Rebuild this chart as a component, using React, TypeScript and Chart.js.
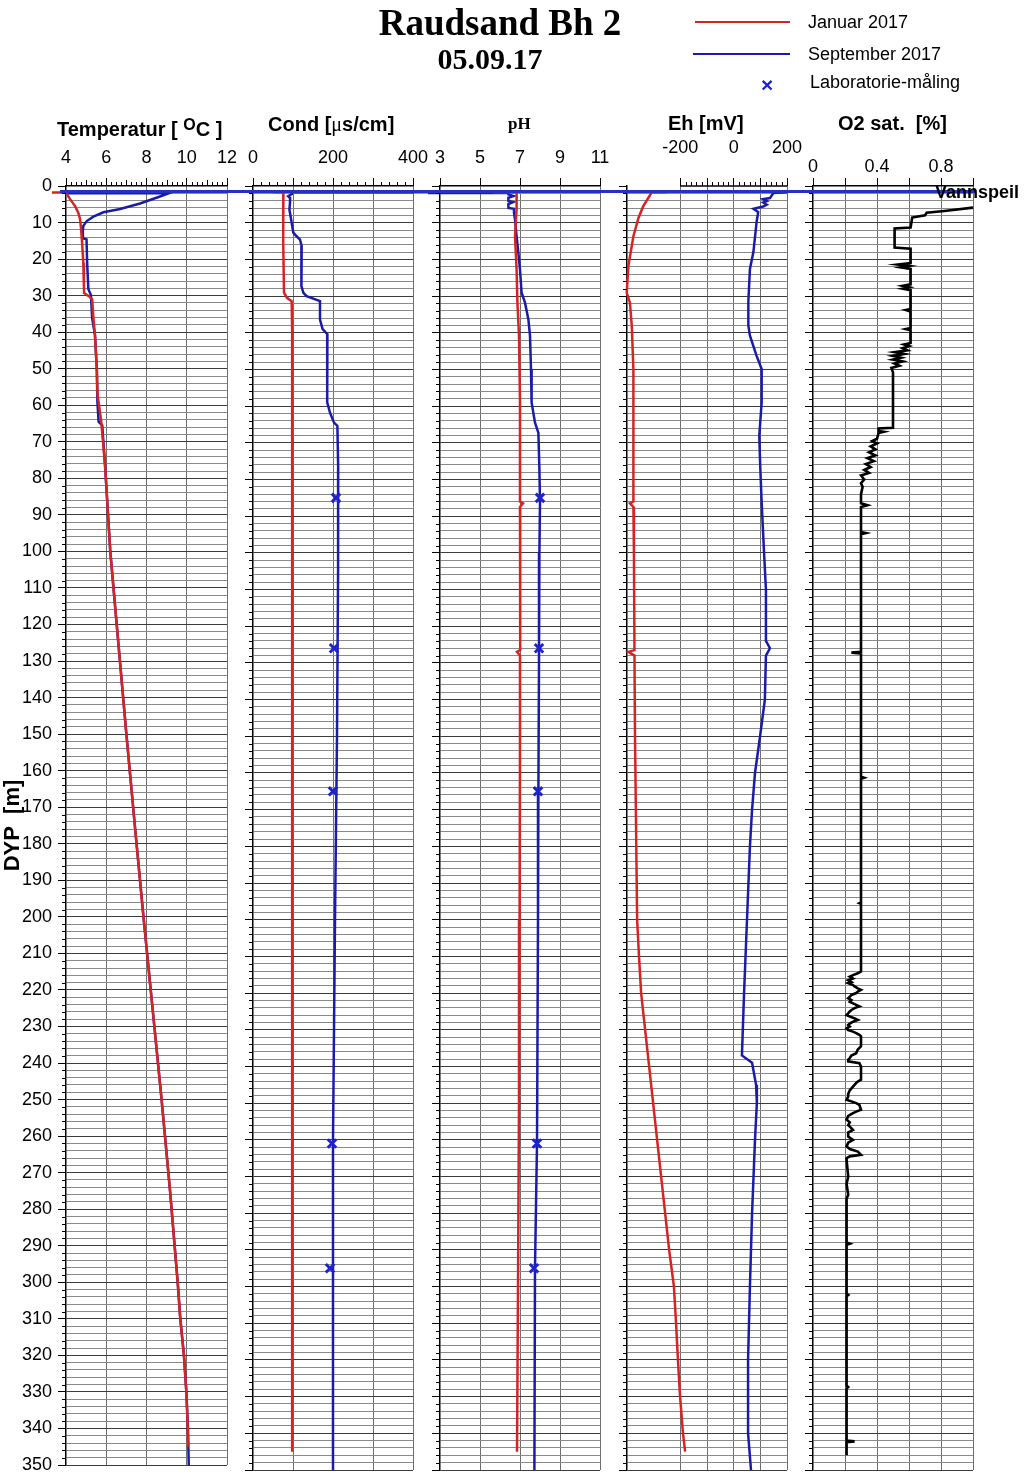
import React, { useEffect, useRef } from "react";
import { Chart, registerables } from "chart.js";

Chart.register(...registerables);

// ---------------- DATA ----------------
const DEPTH_MIN = 0;
const DEPTH_MAX = 350;
const VANNSPEIL_DEPTH = 1.5;

// Temperature (°C)
const TEMP_JAN_DEPTH = [1.8, 1.8, 3.6, 5.5, 7.3, 9.1, 11.8, 16.4, 21.0, 27.4, 29.3, 30.2, 31.0, 36, 40.8, 49.9, 57.2, 64.5, 70, 76.4, 100, 125, 150, 175, 200, 225, 250, 275, 300, 310, 320, 330, 340, 345];
const TEMP_JAN = [3.3, 4.0, 4.2, 4.45, 4.61, 4.7, 4.75, 4.81, 4.86, 4.89, 4.9, 5.15, 5.3, 5.36, 5.44, 5.53, 5.57, 5.75, 5.84, 5.94, 6.2, 6.6, 7.0, 7.42, 7.85, 8.3, 8.75, 9.17, 9.55, 9.68, 9.86, 9.98, 10.05, 10.07];
const TEMP_SEP_DEPTH = [2.0, 2.0, 3.0, 4.8, 6.3, 7.2, 8.4, 9.6, 10.9, 12.7, 14.3, 14.6, 20.9, 28.2, 29.9, 36.2, 40.8, 49.9, 59, 64.5, 65.5, 76.4, 100, 125, 150, 175, 200, 225, 250, 275, 300, 310, 320, 330, 340, 350];
const TEMP_SEP = [4.0, 9.1, 8.6, 7.68, 6.69, 5.86, 5.36, 5.03, 4.86, 4.83, 4.84, 5.02, 5.05, 5.11, 5.24, 5.3, 5.44, 5.53, 5.56, 5.62, 5.8, 5.94, 6.2, 6.6, 7.0, 7.42, 7.85, 8.3, 8.75, 9.17, 9.55, 9.68, 9.86, 9.98, 10.06, 10.1];

// Conductivity (µS/cm)
const COND_JAN_DEPTH = [1.7, 1.7, 4.6, 15, 29.1, 30.5, 31.4, 40.8, 100, 200, 300, 345];
const COND_JAN = [51, 76, 75, 76, 77.5, 85, 96.7, 98, 98, 98, 98, 97.5];
const COND_SEP_DEPTH = [1.7, 1.7, 2.2, 2.8, 3.3, 4.6, 6.4, 10, 12.7, 13.7, 14.6, 16.4, 27.3, 29.1, 30, 31.4, 36.4, 39, 40.4, 50, 59, 61.8, 64.5, 65.4, 77.2, 86.3, 104.5, 150, 200, 260, 300, 350];
const COND_SEP = [440, 97, 97, 88, 93, 92.5, 91, 96.7, 100.8, 109, 117.5, 121.7, 121, 126, 134, 167.5, 167.5, 174, 186, 185, 186, 192.5, 202.5, 211, 213, 213, 212.5, 210, 205, 200, 200, 200];

// pH
const PH_JAN_DEPTH = [1.7, 1.7, 6.2, 13.7, 22.8, 31.6, 40.8, 59, 86, 86.5, 87.5, 100, 126.5, 127, 128, 150, 200, 250, 300, 345];
const PH_JAN = [5.67, 6.83, 6.83, 6.75, 6.83, 6.87, 6.95, 7.0, 7.0, 7.15, 7.0, 7.02, 7.0, 6.85, 7.0, 7.0, 6.98, 6.95, 6.9, 6.85];
const PH_SEP_DEPTH = [1.9, 1.9, 2.3, 2.75, 3.2, 4.1, 4.4, 4.9, 6.0, 6.2, 7.3, 9.1, 13.7, 18.3, 22.8, 29.1, 31.8, 36.4, 40.8, 50, 59, 64.5, 67.3, 77.2, 86.3, 100, 130, 165, 200, 261, 295, 350];
const PH_SEP = [2.4, 6.42, 6.42, 6.67, 6.42, 6.42, 6.65, 6.42, 6.42, 6.7, 6.7, 6.75, 6.83, 6.92, 7.0, 7.08, 7.25, 7.42, 7.5, 7.55, 7.58, 7.75, 7.92, 7.97, 8.0, 7.97, 7.95, 7.92, 7.9, 7.85, 7.75, 7.72];

// Eh (mV)
const EH_JAN_DEPTH = [1.7, 1.7, 5.5, 8.7, 13.7, 21.9, 29.1, 31.8, 38.2, 50, 86, 86.5, 87.5, 100, 126.5, 127, 128, 150, 200, 210, 220, 230, 240, 250, 260, 270, 280, 290, 300, 310, 320, 330, 340, 345];
const EH_JAN = [-251, -307, -339, -357, -376, -395, -401, -389, -382, -376, -376, -389, -376, -374, -372, -395, -372, -370, -362, -355, -347, -332, -317, -302, -287, -272, -257, -242, -224, -216, -209, -201, -190, -182];
const EH_SEP_DEPTH = [1.7, 1.9, 3.3, 3.6, 4.1, 4.5, 5.1, 5.6, 6.2, 7.1, 9.8, 18, 22.6, 31.6, 38, 40.8, 46.3, 49.9, 59, 68.1, 77.2, 86.3, 100, 110, 124, 126, 128, 140, 150, 160, 170, 180, 200, 220, 237, 239, 245, 250, 260, 280, 300, 320, 340, 350];
const EH_SEP = [199, 149, 136, 111, 124, 111, 124, 111, 74, 92, 86, 74, 61, 55, 55, 61, 86, 105, 105, 96, 100, 105, 114, 121, 121, 136, 121, 117, 99, 80, 69, 61, 50, 39, 31, 69, 84, 87, 80, 69, 61, 54, 54, 65];

// O2 saturation (fraction): [depth, value]
const O2_PROFILE: [number, number][] = [
  [5.9, 1.0], [6.8, 0.82], [7.3, 0.71], [8.0, 0.70], [8.6, 0.62], [11.3, 0.61], [11.6, 0.51], [16.8, 0.51], [17.1, 0.61],
  [21.0, 0.61], [21.4, 0.53], [21.8, 0.60], [22.2, 0.55], [22.6, 0.61], [26.8, 0.61], [27.2, 0.56], [27.6, 0.60], [28.0, 0.56],
  [28.4, 0.61], [33.5, 0.61], [33.8, 0.58], [34.2, 0.61], [38.7, 0.61], [39.0, 0.58], [39.3, 0.61], [42.8, 0.61], [43.2, 0.57],
  [43.6, 0.60], [44.2, 0.56], [44.8, 0.59], [45.3, 0.51], [45.8, 0.57], [46.3, 0.50], [46.8, 0.55], [47.3, 0.50], [47.8, 0.56],
  [48.4, 0.51], [49.0, 0.54], [49.6, 0.49], [50.8, 0.50], [65.9, 0.50], [66.1, 0.41], [66.8, 0.41], [67.0, 0.44], [67.3, 0.41],
  [68.9, 0.40], [69.5, 0.37], [70.2, 0.40], [71.0, 0.36], [71.8, 0.39], [72.6, 0.35], [73.4, 0.39], [74.2, 0.34], [75.0, 0.38],
  [75.8, 0.33], [76.6, 0.36], [77.4, 0.32], [78.2, 0.35], [78.9, 0.30], [80, 0.32], [81, 0.30], [82, 0.31], [84, 0.30],
  [86.5, 0.30], [87, 0.34], [87.5, 0.30], [94.3, 0.30], [94.6, 0.33], [94.9, 0.30], [127, 0.30], [127.2, 0.24], [127.4, 0.30],
  [161, 0.30], [161.3, 0.32], [161.6, 0.30], [195.3, 0.30], [195.5, 0.29], [195.7, 0.30],
  [214.1, 0.30], [214.6, 0.28], [215.1, 0.25], [215.5, 0.23], [216.0, 0.25], [216.5, 0.22], [217.0, 0.24], [217.3, 0.22],
  [217.8, 0.25], [218.2, 0.26], [218.7, 0.28], [219.1, 0.30], [219.6, 0.28], [220.0, 0.27], [220.5, 0.24], [221.0, 0.23],
  [221.4, 0.22], [221.9, 0.24], [222.4, 0.23], [222.8, 0.25], [223.2, 0.27], [223.6, 0.29], [224.1, 0.26], [224.6, 0.24],
  [225.0, 0.23], [225.5, 0.22], [226.0, 0.21], [226.4, 0.23], [226.9, 0.26], [227.3, 0.28], [227.8, 0.25], [228.3, 0.23],
  [228.7, 0.22], [229.1, 0.23], [229.6, 0.21], [230.1, 0.22], [230.5, 0.25], [230.9, 0.27], [231.4, 0.29], [231.8, 0.30],
  [233.2, 0.30], [234.5, 0.30], [235.4, 0.28], [236.4, 0.27], [237.0, 0.24], [237.7, 0.23], [238.2, 0.22], [238.6, 0.22],
  [239.1, 0.29], [240, 0.30], [243.6, 0.30], [244.1, 0.28], [244.5, 0.27], [245.5, 0.25], [246.5, 0.23], [247.5, 0.22],
  [248.2, 0.22], [249.1, 0.21], [250, 0.27], [250.5, 0.29], [251.8, 0.30], [252.3, 0.27], [252.7, 0.25], [253.5, 0.22],
  [254.5, 0.21], [255.2, 0.23], [256.0, 0.22], [256.4, 0.23], [257.3, 0.25], [258.0, 0.22], [259.1, 0.22], [260, 0.25],
  [260.8, 0.22], [261.8, 0.21], [262.5, 0.23], [263.2, 0.28], [264.1, 0.30], [264.5, 0.23], [265.0, 0.21], [265.5, 0.21],
  [270, 0.22], [272, 0.21], [275, 0.22], [276, 0.21], [288, 0.21], [288.3, 0.23], [288.6, 0.21], [302, 0.21], [302.3, 0.22],
  [302.6, 0.21], [327, 0.21], [327.4, 0.22], [327.8, 0.21], [342, 0.21], [342.2, 0.26], [342.4, 0.21], [346, 0.21],
];

// Laboratory measurements
const LAB_DEPTH = [85, 126, 165, 261, 295];
const LAB_COND = [207.5, 202.5, 200, 197.5, 192.5];
const LAB_PH = [8.0, 7.95, 7.9, 7.85, 7.7];

// Axis ticks
const DEPTH_TICKS = Array.from({ length: 176 }, (_, i) => i * 2);
const TEMP_TICKS = [4, 6, 8, 10, 12];
const COND_TICKS = [0, 100, 200, 300, 400];
const COND_LABELS = [0, 200, 400];
const PH_TICKS = [3, 5, 7, 9, 11];
const EH_TICKS = [-200, -100, 0, 100, 200];
const EH_LABELS = [-200, 0, 200];
const O2_TICKS = [0, 0.2, 0.4, 0.6, 0.8, 1.0];
const O2_LABELS = [0, 0.4, 0.8];

// ---------------- STYLE ----------------
const RED = "#d42424";
const BLUE = "#1a1ca8";
const MARK_BLUE = "#1f22d0";
const VS_BLUE = "#2331c4";
const SANS = "'Liberation Sans', Arial, Helvetica, sans-serif";
const SERIF = "'Liberation Serif', 'Times New Roman', serif";
const CANVAS_W = 1024;
const CANVAS_H = 1480;
const AREA_TOP = 186;
const AREA_BOTTOM = 1470;
const X_AXIS_H = 60;

function range(a: number, b: number, step: number): number[] {
  const out: number[] = [];
  for (let v = a; v <= b + 1e-9; v += step) out.push(Math.round(v * 1000) / 1000);
  return out;
}

type Series = { depth: number[]; values: number[]; color: string; width?: number };
type Panel = {
  key: string;
  left: number;
  right: number;
  min: number;
  max: number;
  ticks: number[];
  labels: number[];
  minor: number[];
  labelPad: number;
  series: Series[];
  lab?: number[];
  topLine?: [number, number];
  vsLeft: number;
  vsRight: number;
};

const PANELS: Panel[] = [
  {
    key: "temp", left: 66, right: 227, min: 4, max: 12,
    ticks: TEMP_TICKS, labels: TEMP_TICKS, minor: range(4, 12, 0.25).filter((v) => v % 2 !== 0),
    labelPad: 9,
    series: [
      { depth: TEMP_JAN_DEPTH, values: TEMP_JAN, color: RED },
      { depth: TEMP_SEP_DEPTH, values: TEMP_SEP, color: BLUE },
    ],
    vsLeft: 6, vsRight: 13,
  },
  {
    key: "cond", left: 253, right: 413, min: 0, max: 400,
    ticks: COND_TICKS, labels: COND_LABELS, minor: range(0, 400, 20).filter((v) => v % 100 !== 0),
    labelPad: 9,
    series: [
      { depth: COND_JAN_DEPTH, values: COND_JAN, color: RED },
      { depth: COND_SEP_DEPTH, values: COND_SEP, color: BLUE },
    ],
    lab: LAB_COND,
    vsLeft: 13, vsRight: 14,
  },
  {
    key: "ph", left: 440, right: 600, min: 3, max: 11,
    ticks: PH_TICKS, labels: PH_TICKS, minor: [],
    labelPad: 9,
    series: [
      { depth: PH_JAN_DEPTH, values: PH_JAN, color: RED },
      { depth: PH_SEP_DEPTH, values: PH_SEP, color: BLUE },
    ],
    lab: LAB_PH,
    vsLeft: 13, vsRight: 14,
  },
  {
    key: "eh", left: 627, right: 787, min: -400, max: 200,
    ticks: EH_TICKS, labels: EH_LABELS, minor: range(-200, 200, 20).filter((v) => v % 100 !== 0),
    labelPad: 19,
    series: [
      { depth: EH_JAN_DEPTH, values: EH_JAN, color: RED },
      { depth: EH_SEP_DEPTH, values: EH_SEP, color: BLUE },
    ],
    topLine: [-200, 200],
    vsLeft: 13, vsRight: 13,
  },
  {
    key: "o2", left: 813, right: 973, min: 0, max: 1,
    ticks: O2_TICKS, labels: O2_LABELS, minor: [],
    labelPad: 0,
    series: [{ depth: O2_PROFILE.map((r) => r[0]), values: O2_PROFILE.map((r) => r[1]), color: "#000000", width: 2.6 }],
    vsLeft: 13, vsRight: 2,
  },
];

const decorPlugin = {
  id: "decor",
  afterDraw(chart: any, _args: any, opts: any) {
    const ctx = chart.ctx as CanvasRenderingContext2D;
    const xs = chart.scales.x;
    const ys = chart.scales.y;
    const { top, left, right } = chart.chartArea;
    ctx.save();
    ctx.strokeStyle = "#000";
    ctx.lineWidth = 1;
    ctx.beginPath();
    for (const v of opts.xMinor as number[]) {
      const px = Math.round(xs.getPixelForValue(v)) + 0.5;
      const len = Math.abs(v - Math.round(v)) < 1e-9 && opts.midInt ? 6 : 4;
      ctx.moveTo(px, top);
      ctx.lineTo(px, top - len);
    }
    for (const v of DEPTH_TICKS) {
      if (v % 10 === 0) continue;
      const py = Math.round(ys.getPixelForValue(v)) + 0.5;
      ctx.moveTo(left, py);
      ctx.lineTo(left - 4, py);
    }
    ctx.stroke();
    if (opts.topLine) {
      ctx.lineWidth = 1.5;
      ctx.beginPath();
      ctx.moveTo(xs.getPixelForValue(opts.topLine[0]), top);
      ctx.lineTo(xs.getPixelForValue(opts.topLine[1]), top);
      ctx.stroke();
    }
    // water level line
    const vy = ys.getPixelForValue(VANNSPEIL_DEPTH);
    ctx.strokeStyle = VS_BLUE;
    ctx.lineWidth = 3;
    ctx.beginPath();
    ctx.moveTo(left - opts.vsLeft, vy);
    ctx.lineTo(right + opts.vsRight, vy);
    ctx.stroke();
    ctx.restore();
  },
};

function buildChart(canvas: HTMLCanvasElement, p: Panel, first: boolean) {
  const yWidth = first ? 66 : 8;
  const datasets: any[] = [];
  if (p.lab) {
    datasets.push({
      type: "line",
      data: LAB_DEPTH.map((d, k) => ({ x: p.lab![k], y: d })),
      showLine: false,
      pointStyle: "crossRot",
      pointRadius: 6,
      pointBorderWidth: 3,
      pointBorderColor: MARK_BLUE,
      pointBackgroundColor: MARK_BLUE,
      borderColor: MARK_BLUE,
      clip: false,
    });
  }
  for (const s of p.series) {
    datasets.push({
      type: "line",
      data: s.depth.map((d, k) => ({ x: s.values[k], y: d })),
      borderColor: s.color,
      backgroundColor: s.color,
      borderWidth: s.width ?? 2.5,
      pointRadius: 0,
      tension: 0,
      fill: false,
      clip: false,
    });
  }
  const fmt = (v: number) => String(v);
  return new Chart(canvas, {
    type: "line",
    data: { datasets },
    plugins: [decorPlugin as any],
    options: {
      responsive: false,
      animation: false,
      indexAxis: "y",
      events: [],
      layout: {
        padding: {
          left: p.left - yWidth,
          right: CANVAS_W - p.right,
          top: AREA_TOP - X_AXIS_H,
          bottom: CANVAS_H - AREA_BOTTOM,
        },
      },
      plugins: {
        legend: { display: false },
        tooltip: { enabled: false },
        decor: {
          xMinor: p.minor,
          midInt: p.key === "temp",
          topLine: p.topLine,
          vsLeft: p.vsLeft,
          vsRight: p.vsRight,
        },
      } as any,
      scales: {
        x: {
          type: "linear",
          position: "top",
          min: p.min,
          max: p.max,
          afterBuildTicks: (s: any) => {
            s.ticks = p.ticks.map((v) => ({ value: v }));
          },
          afterFit: (s: any) => {
            s.height = X_AXIS_H;
          },
          ticks: {
            autoSkip: false,
            maxRotation: 0,
            padding: p.labelPad,
            color: "#000",
            font: { family: SANS, size: 18 },
            callback: (v: any) => (p.labels.includes(Number(v)) ? fmt(Number(v)) : ""),
          },
          grid: {
            drawTicks: true,
            tickLength: 8,
            tickColor: "#000",
            lineWidth: 1,
            color: (c: any) => (c.tick && c.tick.value !== p.min ? "#6e6e6e" : "rgba(0,0,0,0)"),
          },
          border: { display: !p.topLine, color: "#000", width: 1.5 },
        },
        y: {
          type: "linear",
          position: "left",
          reverse: true,
          min: DEPTH_MIN,
          max: DEPTH_MAX,
          afterBuildTicks: (s: any) => {
            s.ticks = DEPTH_TICKS.map((v) => ({ value: v }));
          },
          afterFit: (s: any) => {
            s.width = yWidth;
          },
          ticks: {
            display: first,
            autoSkip: false,
            padding: 6,
            color: "#000",
            font: { family: SANS, size: 18, lineHeight: 1 },
            callback: (v: any) => (Number(v) % 10 === 0 ? String(v) : ""),
          },
          grid: {
            drawTicks: true,
            tickLength: 8,
            lineWidth: 1,
            tickColor: (c: any) => (c.tick && c.tick.value % 10 === 0 ? "#000" : "rgba(0,0,0,0)"),
            color: (c: any) =>
              c.tick && c.tick.value === 0 ? "rgba(0,0,0,0)" : c.tick && c.tick.value % 10 === 0 ? "#3c3c3c" : "#8a8a8a",
          },
          border: { color: "#000", width: 1.5 },
          title: first
            ? {
                display: true,
                text: "DYP  [m]",
                color: "#000",
                font: { family: SANS, size: 22, weight: "bold" },
                padding: { top: 0, bottom: 0 },
              }
            : { display: false },
        },
      },
    } as any,
  });
}

const abs = (s: React.CSSProperties): React.CSSProperties => ({ position: "absolute", whiteSpace: "pre", lineHeight: 1, ...s });

export default function App() {
  const refs = useRef<(HTMLCanvasElement | null)[]>([]);
  useEffect(() => {
    const charts = PANELS.map((p, i) => buildChart(refs.current[i]!, p, i === 0));
    return () => charts.forEach((c) => c.destroy());
  }, []);

  const titleFont: React.CSSProperties = { fontFamily: SANS, fontWeight: "bold", fontSize: 20, color: "#000" };
  return (
    <div style={{ position: "absolute", left: 0, top: 0, width: CANVAS_W, height: CANVAS_H, background: "#fff", overflow: "hidden" }}>
      {PANELS.map((p, i) => (
        <canvas
          key={p.key}
          ref={(el) => {
            refs.current[i] = el;
          }}
          width={CANVAS_W}
          height={CANVAS_H}
          style={{ position: "absolute", left: 0, top: 0 }}
        />
      ))}
      {/* Main title */}
      <div style={abs({ left: 300, width: 400, top: 4, textAlign: "center", fontFamily: SERIF, fontWeight: "bold", fontSize: 37 })}>Raudsand Bh 2</div>
      <div style={abs({ left: 290, width: 400, top: 44, textAlign: "center", fontFamily: SERIF, fontWeight: "bold", fontSize: 30 })}>05.09.17</div>
      {/* Legend */}
      <div style={abs({ left: 695, top: 21, width: 95, height: 2, background: RED })} />
      <div style={abs({ left: 808, top: 13, fontFamily: SANS, fontSize: 18 })}>Januar 2017</div>
      <div style={abs({ left: 693, top: 53, width: 97, height: 2, background: BLUE })} />
      <div style={abs({ left: 808, top: 45, fontFamily: SANS, fontSize: 18 })}>September 2017</div>
      <div style={abs({ left: 761, top: 74, fontFamily: SANS, fontSize: 21, fontWeight: "bold", color: MARK_BLUE })}>×</div>
      <div style={abs({ left: 810, top: 73, fontFamily: SANS, fontSize: 18 })}>Laboratorie-måling</div>
      {/* Panel titles */}
      <div style={abs({ left: 57, top: 117, ...titleFont })}>
        Temperatur [ <sup style={{ fontSize: 16, verticalAlign: 6 }}>O</sup>C ]
      </div>
      <div style={abs({ left: 268, top: 114, ...titleFont })}>
        Cond [<span style={{ fontFamily: SERIF, fontWeight: "normal" }}>μ</span>s/cm]
      </div>
      <div style={abs({ left: 508, top: 115, fontFamily: SERIF, fontWeight: "bold", fontSize: 17 })}>pH</div>
      <div style={abs({ left: 668, top: 113, ...titleFont })}>Eh [mV]</div>
      <div style={abs({ left: 838, top: 113, ...titleFont })}>O2 sat.  [%]</div>
      {/* Water level label */}
      <div style={abs({ left: 935, top: 183, fontFamily: SANS, fontWeight: "bold", fontSize: 18 })}>Vannspeil</div>
    </div>
  );
}
